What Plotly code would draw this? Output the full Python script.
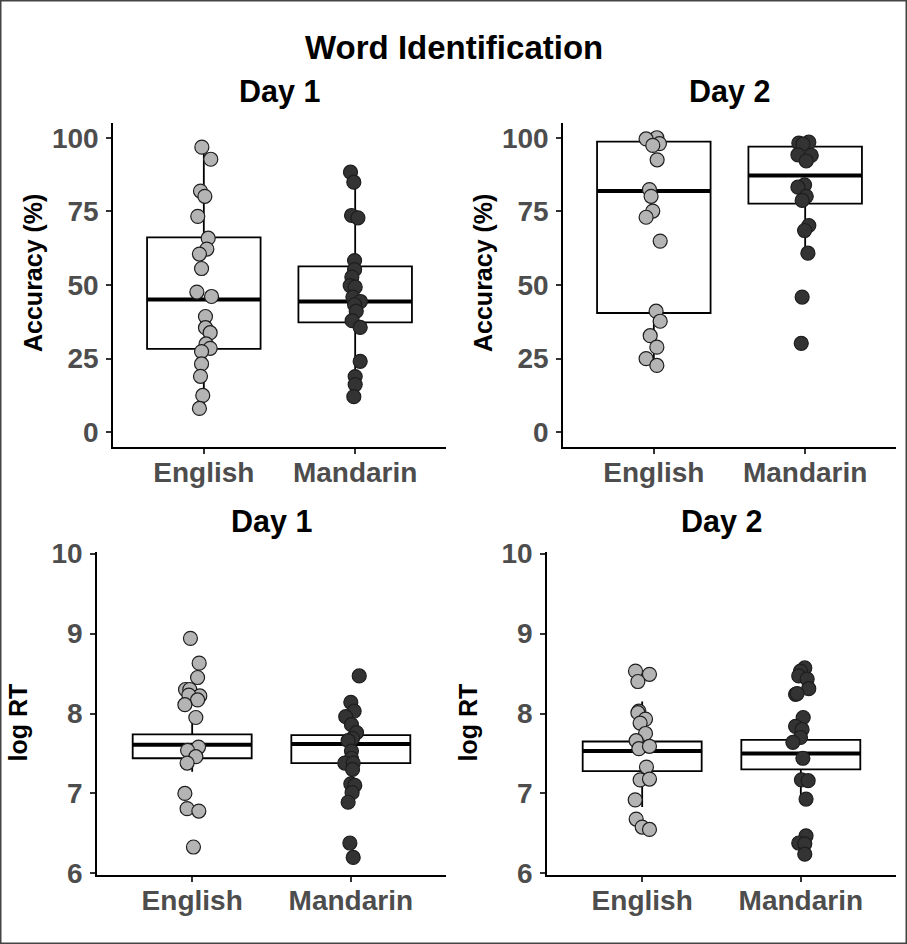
import plotly.graph_objects as go

W, H = 907, 944

groups = ["English", "Mandarin"]
y_ticks_acc = [0, 25, 50, 75, 100]
y_ticks_rt = [6, 7, 8, 9, 10]

# ---- Accuracy (%) per participant ----
acc_day1_english = [96.8, 92.7, 81.9, 80.1, 73.3, 65.9, 62.2, 60.5, 55.6, 47.6, 46.1,
                    39.3, 35.5, 33.8, 30.0, 28.5, 27.4, 23.2, 19.0, 12.5, 8.1]
acc_day1_mandarin = [88.3, 84.9, 73.6, 72.8, 58.3, 55.2, 52.7, 49.8, 49.3, 45.9,
                     44.4, 43.3, 41.1, 37.9, 35.6, 24.1, 18.9, 16.2, 12.1]
acc_day2_english = [100.0, 99.6, 98.0, 97.4, 92.5, 82.4, 80.1, 75.1, 73.0, 64.9,
                    41.1, 37.7, 32.8, 28.9, 25.0, 22.7]
acc_day2_mandarin = [98.2, 98.5, 97.8, 94.2, 94.0, 92.1, 84.0, 83.2, 80.1, 78.7,
                     70.2, 68.5, 60.8, 45.9, 30.2]

# ---- log RT per participant ----
rt_day1_english = [8.94, 8.63, 8.45, 8.30, 8.30, 8.22, 8.23, 8.17, 8.11, 7.95,
                   7.58, 7.54, 7.46, 7.38, 7.00, 6.81, 6.78, 6.33]
rt_day1_mandarin = [8.47, 8.14, 8.03, 7.96, 7.86, 7.76, 7.69, 7.66, 7.53, 7.44,
                    7.38, 7.38, 7.30, 7.12, 7.10, 7.01, 6.89, 6.38, 6.20]
rt_day2_english = [8.53, 8.49, 8.40, 8.03, 8.01, 7.93, 7.88, 7.75, 7.66, 7.56,
                   7.59, 7.33, 7.17, 7.18, 6.92, 6.68, 6.58, 6.55]
rt_day2_mandarin = [8.57, 8.53, 8.47, 8.43, 8.31, 8.24, 8.25, 7.95, 7.84, 7.80,
                    7.70, 7.64, 7.44, 7.17, 7.16, 6.93, 6.47, 6.38, 6.37, 6.24]

# ---- horizontal jitter of each point (category units) ----
acc_day1_english_jit = [-0.013, 0.046, -0.022, 0.007, -0.040, 0.029, 0.020, -0.029, -0.015, -0.046, 0.051,
                        0.011, 0.011, 0.042, 0.015, 0.042, -0.015, -0.015, -0.022, -0.007, -0.029]
acc_day1_mandarin_jit = [-0.031, -0.009, -0.024, 0.018, -0.004, -0.004, -0.022, -0.033, 0.0, -0.015,
                         0.035, -0.004, 0.007, -0.020, 0.033, 0.033, 0.0, 0.0, -0.009]
acc_day2_english_jit = [0.020, -0.051, 0.037, -0.007, 0.022, -0.029, -0.018, -0.007, -0.051, 0.042,
                        0.015, 0.042, -0.024, 0.020, -0.051, 0.020]
acc_day2_mandarin_jit = [-0.042, 0.024, -0.015, -0.048, 0.040, 0.007, -0.004, -0.048, 0.007, -0.020,
                         0.024, -0.004, 0.018, -0.020, -0.026]
rt_day1_english_jit = [-0.011, 0.044, 0.034, -0.042, -0.015, 0.048, -0.021, 0.034, -0.046, 0.023,
                       0.040, -0.029, 0.023, -0.032, -0.046, -0.032, 0.042, 0.008]
rt_day1_mandarin_jit = [0.053, 0.0, 0.021, -0.032, 0.004, 0.036, 0.011, -0.017, 0.004, 0.004,
                        -0.038, 0.015, 0.011, 0.0, 0.025, 0.008, -0.017, -0.006, 0.015]
rt_day2_english_jit = [-0.042, 0.046, -0.027, -0.021, -0.027, 0.021, -0.013, 0.021, -0.038, -0.021,
                       0.046, 0.027, -0.013, 0.046, -0.044, -0.038, 0.0, 0.046]
rt_day2_mandarin_jit = [0.025, -0.002, -0.013, 0.040, 0.050, -0.033, -0.023, 0.015, -0.033, 0.008,
                        -0.002, -0.050, 0.013, 0.004, 0.046, 0.033, 0.033, -0.013, 0.025, 0.025]

# ---- box summaries: [lower whisker, Q1, median, Q3, upper whisker] ----
acc_day1_english_box = [8.1, 28.3, 45.1, 66.2, 96.8]
acc_day1_mandarin_box = [12.1, 37.3, 44.4, 56.3, 88.3]
acc_day2_english_box = [22.7, 40.5, 81.9, 98.7, 100.0]
acc_day2_mandarin_box = [60.8, 77.6, 87.2, 97.0, 98.5]
rt_day1_english_box = [7.27, 7.44, 7.61, 7.74, 7.95]
rt_day1_mandarin_box = [7.00, 7.38, 7.62, 7.73, 8.00]
rt_day2_english_box = [6.83, 7.28, 7.53, 7.65, 8.15]
rt_day2_mandarin_box = [6.98, 7.30, 7.50, 7.67, 7.95]

FONT = "Liberation Sans"
FILL = {"English": "#B4B4B4", "Mandarin": "#333333"}
BOX_WIDTH = 0.75

# panel geometry in pixels: (left, right, top, bottom), plus y-title vertical offset
panels = [
    dict(ax="", title="Day 1", ylab="Accuracy (%)", ylab_dy=-12, px=(113, 446, 123, 447),
         yr=[-5, 105], yt=y_ticks_acc,
         data=[(acc_day1_english, acc_day1_english_jit, acc_day1_english_box),
               (acc_day1_mandarin, acc_day1_mandarin_jit, acc_day1_mandarin_box)]),
    dict(ax="2", title="Day 2", ylab="Accuracy (%)", ylab_dy=-12, px=(563, 896, 123, 447),
         yr=[-5, 105], yt=y_ticks_acc,
         data=[(acc_day2_english, acc_day2_english_jit, acc_day2_english_box),
               (acc_day2_mandarin, acc_day2_mandarin_jit, acc_day2_mandarin_box)]),
    dict(ax="3", title="Day 1", ylab="log RT", ylab_dy=9, px=(97, 446, 552, 875),
         yr=[5.98, 10.02], yt=y_ticks_rt,
         data=[(rt_day1_english, rt_day1_english_jit, rt_day1_english_box),
               (rt_day1_mandarin, rt_day1_mandarin_jit, rt_day1_mandarin_box)]),
    dict(ax="4", title="Day 2", ylab="log RT", ylab_dy=9, px=(547, 896, 552, 875),
         yr=[5.98, 10.02], yt=y_ticks_rt,
         data=[(rt_day2_english, rt_day2_english_jit, rt_day2_english_box),
               (rt_day2_mandarin, rt_day2_mandarin_jit, rt_day2_mandarin_box)]),
]

fig = go.Figure()
annotations = []
layout_axes = {}

for p in panels:
    xa, ya = "x" + p["ax"], "y" + p["ax"]
    l, r, t, b = p["px"]
    for gi, (vals, jit, box) in enumerate(p["data"]):
        pos = gi + 1
        lo, q1, med, q3, hi = box
        fig.add_trace(go.Box(
            x=[pos], q1=[q1], median=[med], q3=[q3], lowerfence=[lo], upperfence=[hi],
            width=BOX_WIDTH, whiskerwidth=0, boxpoints=False,
            fillcolor="white", line=dict(color="black", width=1.8),
            xaxis=xa, yaxis=ya, showlegend=False, hoverinfo="skip"))
        # thicker median bar
        fig.add_trace(go.Scatter(
            x=[pos - BOX_WIDTH / 2, pos + BOX_WIDTH / 2], y=[med, med], mode="lines",
            line=dict(color="black", width=4), xaxis=xa, yaxis=ya,
            showlegend=False, hoverinfo="skip"))
    for gi, (vals, jit, box) in enumerate(p["data"]):
        pos = gi + 1
        g = groups[gi]
        fig.add_trace(go.Scatter(
            x=[pos + j for j in jit], y=vals, mode="markers",
            marker=dict(size=14, color=FILL[g], line=dict(color="#1e1e1e", width=1.2)),
            xaxis=xa, yaxis=ya, showlegend=False, name=g))

    axis_common = dict(showline=True, linecolor="black", linewidth=1.6, ticks="outside",
                       ticklen=5, tickwidth=1.5, tickcolor="#333333", showgrid=False,
                       zeroline=False, fixedrange=True, automargin=False,
                       tickfont=dict(family=FONT, size=28, color="#4D4D4D", weight="bold"))
    layout_axes["xaxis" + p["ax"]] = dict(
        axis_common, domain=[l / W, r / W], anchor=ya, range=[0.4, 2.6],
        tickvals=[1, 2], ticktext=groups, ticklabelstandoff=-5)
    layout_axes["yaxis" + p["ax"]] = dict(
        axis_common, domain=[1 - b / H, 1 - t / H], anchor=xa, range=p["yr"],
        tickvals=p["yt"], ticktext=[str(v) for v in p["yt"]], ticklabelstandoff=2)

    annotations.append(dict(text=p["title"], x=(l + r) / 2 / W, y=1 - (t - 31) / H,
                            xref="paper", yref="paper", xanchor="center", yanchor="middle",
                            showarrow=False, font=dict(family=FONT, size=30.5, color="black", weight="bold")))
    annotations.append(dict(text=p["ylab"], x=(l - 80) / W, y=1 - ((t + b) / 2 + p["ylab_dy"]) / H,
                            xref="paper", yref="paper", xanchor="center", yanchor="middle",
                            textangle=-90, showarrow=False,
                            font=dict(family=FONT, size=25, color="black", weight="bold")))

annotations.append(dict(text="Word Identification", x=0.5, y=1 - 47 / H, xref="paper", yref="paper",
                        xanchor="center", yanchor="middle", showarrow=False,
                        font=dict(family=FONT, size=33, color="black", weight="bold")))

fig.update_layout(
    width=W, height=H, margin=dict(l=0, r=0, t=0, b=0, autoexpand=False),
    paper_bgcolor="white", plot_bgcolor="white",
    annotations=annotations,
    shapes=[dict(type="rect", xref="paper", yref="paper", x0=0, x1=1, y0=0, y1=1,
                 line=dict(color="#444444", width=3))],
    **layout_axes)

fig.write_html("out.html")
